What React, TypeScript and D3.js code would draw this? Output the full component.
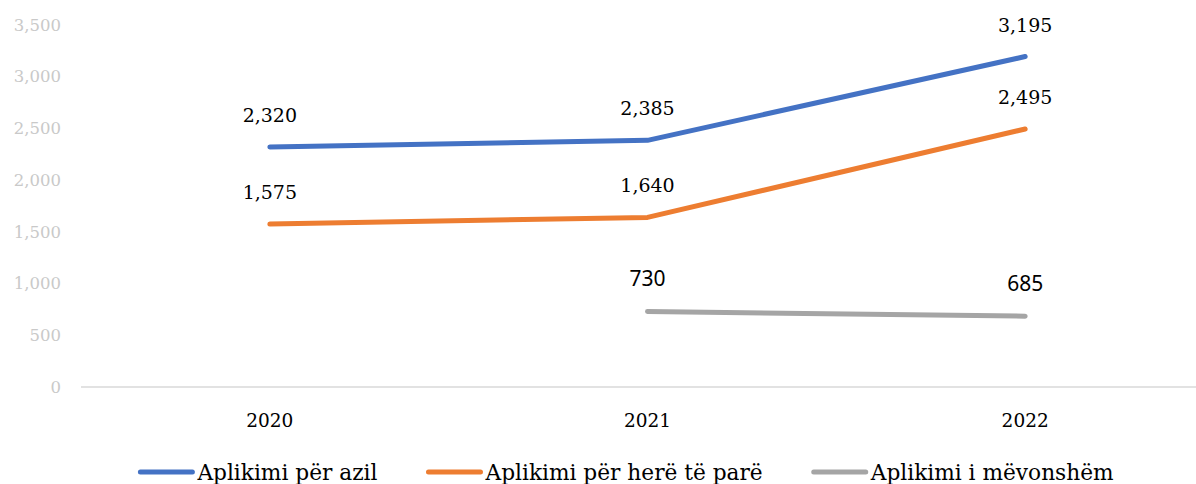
import React, { useRef, useEffect } from 'react';
import * as d3 from 'd3';

// kategoritë (vitet)
const years = ['2020', '2021', '2022'];

// seritë
const seriesNames = ['Aplikimi për azil', 'Aplikimi për herë të parë', 'Aplikimi i mëvonshëm'];
const azil = [2320, 2385, 3195];
const hereParë = [1575, 1640, 2495];
const mevonshem = [null, 730, 685];

const yTicks = [0, 500, 1000, 1500, 2000, 2500, 3000, 3500];

const colors = ['#4472C4', '#ED7D31', '#A5A5A5'];

const W = 1196;
const H = 484;
const SERIF = '"DejaVu Serif", serif';

const App = () => {
  const svgRef = useRef<SVGSVGElement>(null);

  useEffect(() => {
    const svg = d3.select(svgRef.current);
    svg.selectAll('*').remove();

    const x = d3.scaleBand().domain(years).range([81, 1214]);
    const y = d3.scaleLinear().domain([0, 3500]).range([387, 25]);
    const cx = (d: string) => (x(d) as number) + x.bandwidth() / 2;

    // y tick labels (no axis line)
    svg.append('g')
      .selectAll('text')
      .data(yTicks)
      .join('text')
      .attr('x', 61)
      .attr('y', d => y(d))
      .attr('dy', '0.35em')
      .attr('text-anchor', 'end')
      .attr('fill', '#c9c9c9')
      .style('font-family', SERIF)
      .style('font-size', '16.5px')
      .text(d => d3.format(',')(d));

    // baseline
    svg.append('line')
      .attr('x1', 81).attr('x2', W)
      .attr('y1', y(0)).attr('y2', y(0))
      .attr('stroke', '#d9d9d9')
      .attr('stroke-width', 1.3);

    // x labels
    svg.append('g')
      .selectAll('text')
      .data(years)
      .join('text')
      .attr('x', d => cx(d))
      .attr('y', 427)
      .attr('text-anchor', 'middle')
      .attr('fill', '#000')
      .style('font-family', SERIF)
      .style('font-size', '18.5px')
      .text(d => d);

    const all = [azil, hereParë, mevonshem];
    const line = d3.line<number | null>()
      .defined(d => d !== null)
      .x((d, i) => cx(years[i]))
      .y(d => y(d as number));

    all.forEach((vals, si) => {
      svg.append('path')
        .datum(vals)
        .attr('d', line)
        .attr('fill', 'none')
        .attr('stroke', colors[si])
        .attr('stroke-width', 5)
        .attr('stroke-linecap', 'round')
        .attr('stroke-linejoin', 'round');

      const pts = vals.map((v, i) => ({ v, yr: years[i] })).filter(p => p.v !== null);
      svg.append('g')
        .selectAll('text')
        .data(pts)
        .join('text')
        .attr('x', p => cx(p.yr))
        .attr('y', p => y(p.v as number) - 25)
        .attr('text-anchor', 'middle')
        .attr('fill', '#000')
        .style('font-family', si === 2 ? '"Noto Sans", sans-serif' : SERIF)
        .style('font-size', si === 2 ? '21px' : '19px')
        .text(p => d3.format(',')(p.v as number));
    });

    // legend
    const leg = svg.append('g');
    let pos = 0;
    seriesNames.forEach((name, i) => {
      const g = leg.append('g').attr('transform', `translate(${pos},0)`);
      g.append('line')
        .attr('x1', 2).attr('x2', 54)
        .attr('y1', 472).attr('y2', 472)
        .attr('stroke', colors[i])
        .attr('stroke-width', 5)
        .attr('stroke-linecap', 'round');
      const t = g.append('text')
        .attr('x', 59)
        .attr('y', 480)
        .attr('fill', '#000')
        .style('font-family', SERIF)
        .style('font-size', '21.7px')
        .text(name);
      const w = (t.node() as SVGTextElement).getComputedTextLength();
      pos += 59 + w + 49;
    });
    const total = pos - 49;
    leg.attr('transform', `translate(${626 - total / 2},0)`);
  }, []);

  return (
    <>
      <style>{'body{margin:0}'}</style>
      <svg ref={svgRef} width={W} height={H} style={{ display: 'block', background: '#fff' }} />
    </>
  );
};

export default App;
